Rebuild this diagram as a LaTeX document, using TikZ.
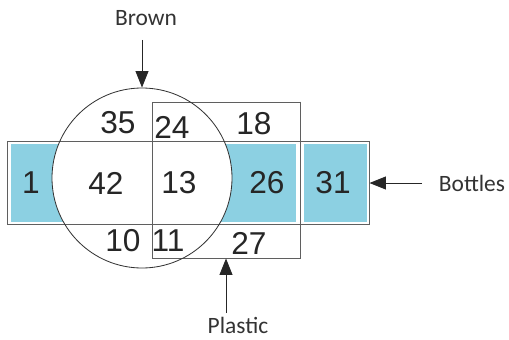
\documentclass[tikz,border=0pt]{standalone}
\usepackage{fontspec}
\setmainfont{Liberation Sans}
\newfontfamily\lblfont{Carlito}
\usetikzlibrary{arrows.meta,calc,positioning}
\definecolor{bottleblue}{RGB}{140,208,226}
\definecolor{edgegray}{RGB}{95,95,95}

\begin{document}
\begin{tikzpicture}[>={Triangle[length=14pt,width=11pt]},x=0.03cm,y=-0.03cm]
\tikzset{num/.style={font=\fontsize{27}{30}\selectfont,inner sep=0pt,text=black!85},
  lbl/.style={font=\lblfont\fontsize{20}{24}\selectfont,inner sep=1pt,text=black!80},
  box/.style={draw=edgegray,line width=0.8pt,inner sep=0pt},
  pointer/.style={->,line width=0.8pt,black!85}}
\useasboundingbox (0,0) rectangle (509,340);
% shapes
\node[box,draw=none,minimum width=10.83cm,minimum height=2.46cm] (bottles) at (188.5,183) {};
\fill[bottleblue] ($(bottles.north west)+(3,2)$) rectangle ($(bottles.south east)+(-2,-2)$);
\node[box,draw=none,fill=white,circle,minimum size=5.4cm] (brown) at (142,178) {};
\node[box,minimum width=4.44cm,minimum height=4.68cm] (plastic) at (226,180) {};
\fill[white] ($(plastic.east|-bottles.north)+(-4,1)$) rectangle ($(plastic.east|-bottles.south)+(4,-1)$);
\draw[edgegray,line width=0.8pt] (plastic.north east) -- (plastic.south east);
\draw[edgegray,line width=0.8pt] (bottles.north west) rectangle (bottles.south east);
\draw[black!80,line width=0.7pt] (brown) circle (90);
% counts
\node[num] (n35) at (118,123) {35}; \node[num] (n24) at (172,127) {24}; \node[num] (n18) at (254,124) {18};
\node[num] (n1) at (31,183) {1}; \node[num] (n42) at (106,183) {42}; \node[num] (n13) at (179,183) {13};
\node[num] (n26) at (267,183) {26}; \node[num] (n31) at (333,183) {31};
\node[num] (n10) at (123,241) {10}; \node[num] (n11) at (168,241) {11}; \node[num] (n27) at (249,243) {27};
% labels
\node[lbl] (brownlbl) at (146,18) {Brown};
\node[lbl] (plasticlbl) at (238,325) {Plastic};
\node[lbl] (bottleslbl) at (472,183) {Bottles};
\coordinate (browntail) at (142,40);
\coordinate (plastictail) at (226,313);
\coordinate (bottlestail) at (422,183);
\draw[pointer] (browntail) -- (brown.north);
\draw[pointer] (plastictail) -- (plastic.south);
\draw[pointer] (bottlestail) -- (bottles.east);
\end{tikzpicture}
\end{document}
